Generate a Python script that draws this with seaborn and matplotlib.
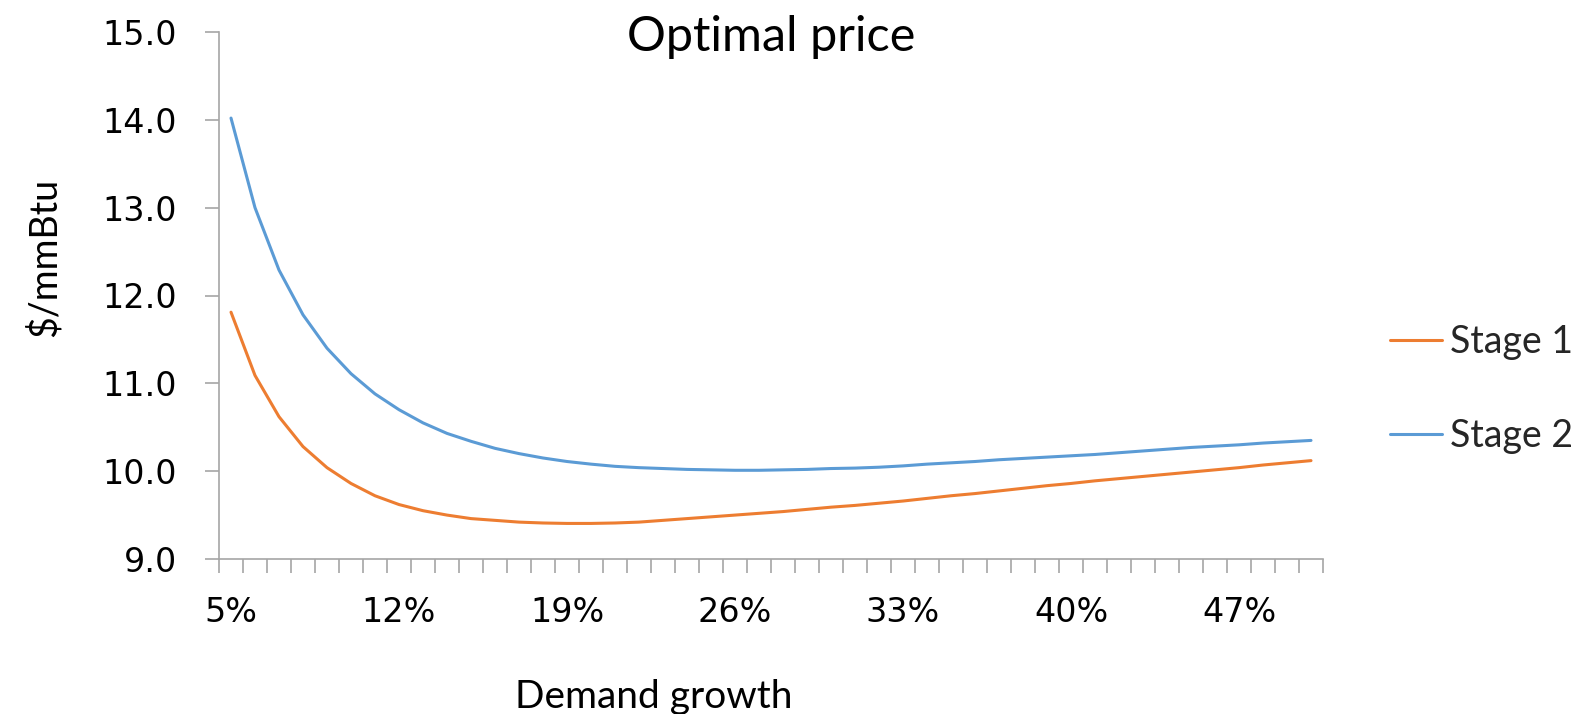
import matplotlib
matplotlib.use('Agg')
import matplotlib.pyplot as plt
import seaborn as sns
import pandas as pd
import numpy as np
from matplotlib.ticker import FixedLocator

# Demand growth categories 5% .. 50%
growth = [f'{g}%' for g in range(5, 51)]

# Stage 1 optimal price ($/mmBtu)
stage1 = [11.81, 11.09, 10.62, 10.28, 10.04, 9.86, 9.72, 9.62, 9.55, 9.50,
          9.46, 9.44, 9.42, 9.41, 9.405, 9.405, 9.41, 9.42, 9.44, 9.46,
          9.48, 9.50, 9.52, 9.54, 9.565, 9.59, 9.61, 9.635, 9.66, 9.69,
          9.72, 9.745, 9.775, 9.805, 9.835, 9.86, 9.89, 9.915, 9.94, 9.965,
          9.99, 10.015, 10.04, 10.07, 10.095, 10.12]

# Stage 2 optimal price ($/mmBtu)
stage2 = [14.02, 13.00, 12.29, 11.78, 11.40, 11.11, 10.88, 10.70, 10.55, 10.43,
          10.34, 10.26, 10.20, 10.15, 10.11, 10.08, 10.055, 10.04, 10.03, 10.02,
          10.015, 10.01, 10.01, 10.015, 10.02, 10.03, 10.035, 10.045, 10.06, 10.08,
          10.095, 10.11, 10.13, 10.145, 10.16, 10.175, 10.19, 10.21, 10.23, 10.25,
          10.27, 10.285, 10.30, 10.32, 10.335, 10.35]

y_ticks = [9.0, 10.0, 11.0, 12.0, 13.0, 14.0, 15.0]

pos = list(range(len(growth)))
df = pd.DataFrame({
    'pos': pos * 2,
    'growth': growth * 2,
    'price': stage1 + stage2,
    'stage': ['Stage 1'] * len(growth) + ['Stage 2'] * len(growth),
})

sns.set_style('white')
plt.rcParams['font.family'] = ['DejaVu Sans']

fig = plt.figure(figsize=(15.83, 7.14), dpi=100)
ax = fig.add_axes([219 / 1583, 155 / 714, 1104 / 1583, 527 / 714])

sns.lineplot(data=df, x='pos', y='price', hue='stage',
             palette={'Stage 1': '#ED7D31', 'Stage 2': '#5B9BD5'},
             linewidth=2.2, ax=ax)

ax.set_xlim(-0.5, len(growth) - 0.5)
ax.set_ylim(9.0, 15.0)

# x axis: labels every 7th category, tick marks between categories
ax.xaxis.set_major_locator(FixedLocator(pos[::7]))
ax.set_xticklabels(growth[::7])
ax.xaxis.set_minor_locator(FixedLocator(np.arange(-0.5, len(growth), 1.0)))
ax.tick_params(axis='x', which='major', length=0, pad=27, labelsize=24, colors='black')
ax.tick_params(axis='x', which='minor', length=10, width=1.2, color='#A6A6A6', direction='out')

ax.set_yticks(y_ticks)
ax.set_yticklabels([f'{v:.1f}' for v in y_ticks])
ax.tick_params(axis='y', which='major', length=10, width=1.2, color='#A6A6A6',
               direction='out', pad=20, labelsize=24, labelcolor='black')
ax.tick_params(bottom=True, left=True, which='both')

for s in ['top', 'right']:
    ax.spines[s].set_visible(False)
for s in ['left', 'bottom']:
    ax.spines[s].set_color('#A6A6A6')
    ax.spines[s].set_linewidth(1.2)

ax.set_xlabel('')
ax.set_ylabel('')

fig.text(771 / 1583, 1 - 51 / 714, 'Optimal price', ha='center', va='baseline',
         fontsize=35, family='Lato', color='black')
fig.text(44 / 1583, 1 - 257 / 714, '$/mmBtu', rotation=90, ha='center', va='center',
         fontsize=27, family='Lato', color='black')
fig.text(654 / 1583, 1 - 708 / 714, 'Demand growth', ha='center', va='baseline',
         fontsize=28, family='Lato', color='black')

handles, labels = ax.get_legend_handles_labels()
leg = ax.legend(handles, labels, loc='center left',
                bbox_to_anchor=(1356 / 1583, 1 - 389 / 714),
                bbox_transform=fig.transFigure, frameon=False,
                prop={'family': 'Lato', 'size': 27},
                handlelength=1.4, handletextpad=0.2, labelspacing=1.55)

fig.savefig('out.png', dpi=100)
